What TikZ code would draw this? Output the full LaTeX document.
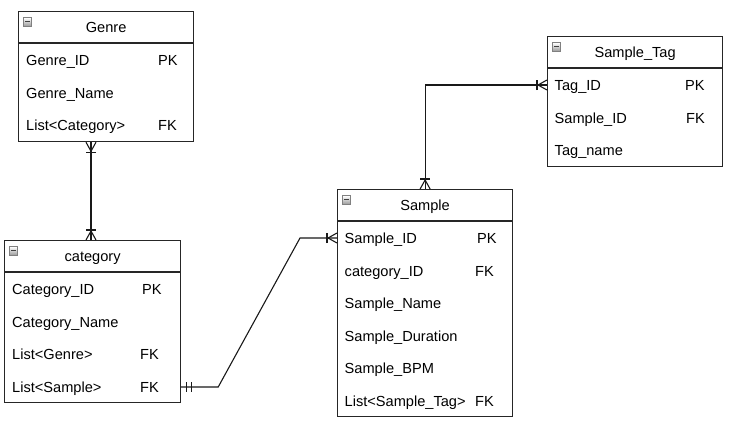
\documentclass[tikz,border=0pt]{standalone}
\usepackage{fontspec}
\setmainfont{Liberation Sans}
\usetikzlibrary{calc}
\tikzset{
  tbl/.style={draw=black!85, line width=1.2pt, anchor=north west, inner sep=0pt},
  hdr/.style={anchor=base, inner sep=0pt, font=\fontsize{14.6}{17}\selectfont},
  field/.style={anchor=base west, inner sep=0pt, font=\fontsize{14.6}{17}\selectfont},
  icon/.style={draw=black!50, line width=0.7pt, top color=white, bottom color=black!40,
    minimum size=8.5pt, inner sep=0pt,
    path picture={\draw[black!75, line width=1.1pt] ([xshift=1.8pt,yshift=0.8pt]path picture bounding box.west) -- ([xshift=-1.8pt,yshift=0.8pt]path picture bounding box.east);}},
  link/.style={draw=black!90, line width=1.1pt}
}
\def\erbox(#1)(#2:#3)#4#5{
  \node[tbl, minimum width=#2, minimum height=#3] (#4) at (#1) {};
  \draw[tbl] ([yshift=-32pt]#4.north west) -- ([yshift=-32pt]#4.north east);
  \node[hdr] (#4-title) at ([yshift=-21pt]#4.north) {#5};
  \node[icon] (#4-icon) at ([shift={(9.5pt,-11pt)}]#4.north west) {};
}
\def\crowfoot(#1)(#2){\begin{scope}[shift={(#1)},rotate=#2]
  \draw[link] (0,-5) -- (9,0) -- (0,5); \draw[link] (10,-5) -- (10,5);\end{scope}}
\def\twobars(#1)(#2){\begin{scope}[shift={(#1)},rotate=#2]
  \draw[link] (5,-5) -- (5,5); \draw[link] (10,-5) -- (10,5);\end{scope}}

\begin{document}
\begin{tikzpicture}[x=1pt, y=-1pt]
	%%%%% START %%%%%
	\useasboundingbox (0,0) rectangle (730,426);
	
	% Genre
	\erbox(18,11)(175:130){genre}{Genre}
	\node[field] (genre-f1) at ([shift={(8pt,-54pt)}]genre.north west) {Genre\_ID};
	\node[field] (genre-k1) at ([shift={(140pt,-54pt)}]genre.north west) {PK};
	\node[field] (genre-f2) at ([shift={(8pt,-87pt)}]genre.north west) {Genre\_Name};
	\node[field] (genre-f3) at ([shift={(8pt,-119pt)}]genre.north west) {List<Category>};
	\node[field] (genre-k3) at ([shift={(140pt,-119pt)}]genre.north west) {FK};
	
	% category
	\erbox(4,240)(176:162){cat}{category}
	\node[field] (cat-f1) at ([shift={(8pt,-54pt)}]cat.north west) {Category\_ID};
	\node[field] (cat-k1) at ([shift={(138pt,-54pt)}]cat.north west) {PK};
	\node[field] (cat-f2) at ([shift={(8pt,-87pt)}]cat.north west) {Category\_Name};
	\node[field] (cat-f3) at ([shift={(8pt,-119pt)}]cat.north west) {List<Genre>};
	\node[field] (cat-k3) at ([shift={(136pt,-119pt)}]cat.north west) {FK};
	\node[field] (cat-f4) at ([shift={(8pt,-152pt)}]cat.north west) {List<Sample>};
	\node[field] (cat-k4) at ([shift={(136pt,-152pt)}]cat.north west) {FK};
	
	% Sample
	\erbox(337,189)(175:227){smp}{Sample}
	\node[field] (smp-f1) at ([shift={(7.5pt,-54pt)}]smp.north west) {Sample\_ID};
	\node[field] (smp-k1) at ([shift={(140pt,-54pt)}]smp.north west) {PK};
	\node[field] (smp-f2) at ([shift={(7.5pt,-87pt)}]smp.north west) {category\_ID};
	\node[field] (smp-k2) at ([shift={(138pt,-87pt)}]smp.north west) {FK};
	\node[field] (smp-f3) at ([shift={(7.5pt,-119pt)}]smp.north west) {Sample\_Name};
	\node[field] (smp-f4) at ([shift={(7.5pt,-152pt)}]smp.north west) {Sample\_Duration};
	\node[field] (smp-f5) at ([shift={(7.5pt,-184pt)}]smp.north west) {Sample\_BPM};
	\node[field] (smp-f6) at ([shift={(7.5pt,-217pt)}]smp.north west) {List<Sample\_Tag>};
	\node[field] (smp-k6) at ([shift={(138pt,-217pt)}]smp.north west) {FK};
	
	% Sample_Tag
	\erbox(547,36)(175:130){tag}{Sample\_Tag}
	\node[field] (tag-f1) at ([shift={(7.5pt,-54pt)}]tag.north west) {Tag\_ID};
	\node[field] (tag-k1) at ([shift={(138pt,-54pt)}]tag.north west) {PK};
	\node[field] (tag-f2) at ([shift={(7.5pt,-87pt)}]tag.north west) {Sample\_ID};
	\node[field] (tag-k2) at ([shift={(139pt,-87pt)}]tag.north west) {FK};
	\node[field] (tag-f3) at ([shift={(7.5pt,-119pt)}]tag.north west) {Tag\_name};
	
	% Genre -- category
	\coordinate (gc) at (91,0);
	\draw[link] (genre.south -| gc) -- (cat.north -| gc);
	\crowfoot(genre.south -| gc)(-90)
	\crowfoot(cat.north -| gc)(90)
	
	% category -- Sample
	\coordinate (cs1) at ([yshift=5pt]cat.east |- cat-f4.base);
	\coordinate (cs2) at ([yshift=5pt]smp.west |- smp-f1.base);
	\draw[link] (cs1) -- ++(37,0) -- ([xshift=-37pt]cs2) -- (cs2);
	\twobars(cs1)(0)
	\crowfoot(cs2)(180)
	
	% Sample -- Sample_Tag
	\coordinate (st) at ([yshift=5pt]tag.west |- tag-f1.base);
	\draw[link] (smp.north) |- (st);
	\crowfoot(smp.north)(90)
	\crowfoot(st)(180)
	
	%%%%% END %%%%%
\end{tikzpicture}
\end{document}
